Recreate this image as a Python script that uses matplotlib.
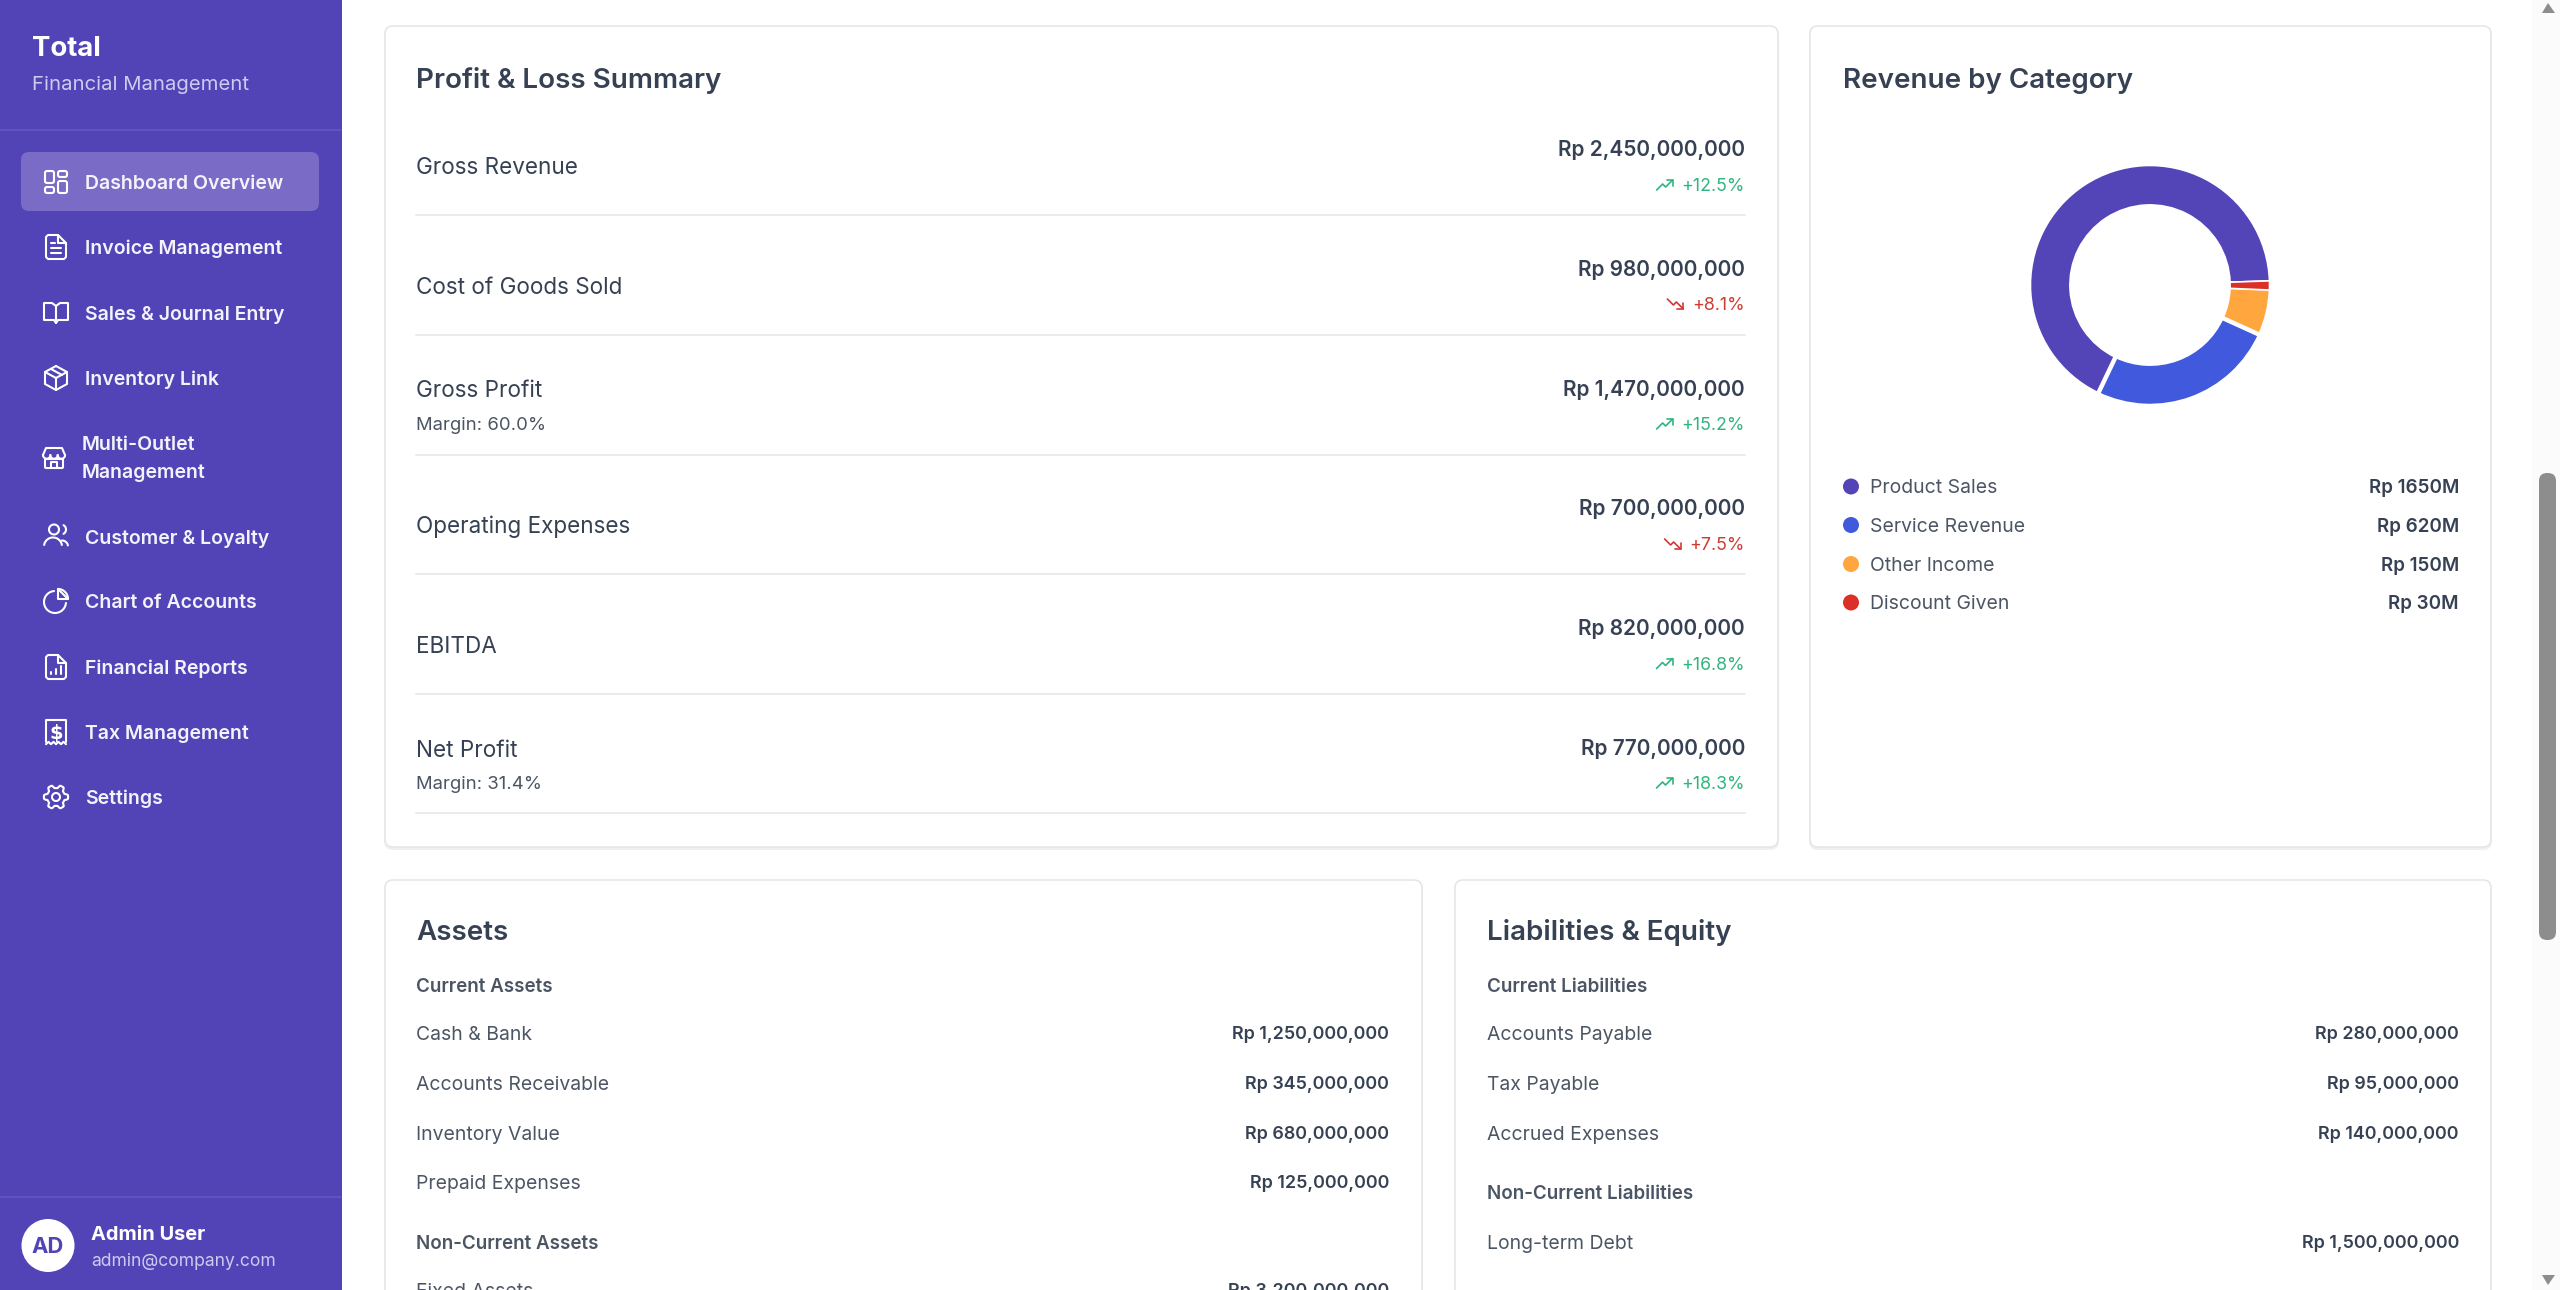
import numpy as np
from matplotlib import pyplot as plt
from matplotlib.patches import FancyBboxPatch, Rectangle, Circle, Polygon

plt.rcParams['font.family'] = ['Inter', 'DejaVu Sans']

SIDEBAR = '#5243b6'
DARK = '#364153'
MID = '#4b5563'
GREEN = '#2fb57e'
RED = '#cf3a32'
LINE = '#e3e5e8'

nav_labels = ['Dashboard Overview', 'Invoice Management', 'Sales & Journal Entry', 'Inventory Link',
              'Multi-Outlet\nManagement', 'Customer & Loyalty', 'Chart of Accounts', 'Financial Reports',
              'Tax Management', 'Settings']
nav_icons = ['grid', 'doc', 'book', 'box', 'store', 'users', 'pie', 'report', 'tax', 'gear']

pl_labels = ['Gross Revenue', 'Cost of Goods Sold', 'Gross Profit', 'Operating Expenses', 'EBITDA', 'Net Profit']
pl_notes = ['', '', 'Margin: 60.0%', '', '', 'Margin: 31.4%']
pl_values = [2450000000, 980000000, 1470000000, 700000000, 820000000, 770000000]
pl_deltas = [12.5, 8.1, 15.2, 7.5, 16.8, 18.3]
pl_good = [True, False, True, False, True, True]

rev_labels = ['Product Sales', 'Service Revenue', 'Other Income', 'Discount Given']
rev_values = [1650, 620, 150, 30]
rev_colors = ['#5344b7', '#4159dd', '#ffa63e', '#dc2f28']

asset_groups = ['Current Assets', 'Non-Current Assets']
current_asset_labels = ['Cash & Bank', 'Accounts Receivable', 'Inventory Value', 'Prepaid Expenses']
current_asset_values = [1250000000, 345000000, 680000000, 125000000]
noncurrent_asset_labels = ['Fixed Assets']
noncurrent_asset_values = [3200000000]

liab_groups = ['Current Liabilities', 'Non-Current Liabilities']
current_liab_labels = ['Accounts Payable', 'Tax Payable', 'Accrued Expenses']
current_liab_values = [280000000, 95000000, 140000000]
noncurrent_liab_labels = ['Long-term Debt']
noncurrent_liab_values = [1500000000]


def rp(v):
    return f'Rp {v:,}'


fig = plt.figure(figsize=(25.6, 12.9), dpi=100, facecolor='white')
ax = fig.add_axes([0, 0, 1, 1])
ax.set_xlim(0, 2560)
ax.set_ylim(1290, 0)
ax.axis('off')


def txt(x, y, s, px, color=DARK, weight='normal', ha='left'):
    # y is the middle of the capitals, px the font size in pixels
    return ax.text(x, y + 0.36 * px, s, fontsize=px * 0.72, color=color, fontweight=weight,
                   ha=ha, va='baseline', zorder=5)


def rbox(x0, y0, x1, y1, r, fc, ec='none', lw=1.0, z=2):
    ax.add_patch(FancyBboxPatch((x0 + r, y0 + r), x1 - x0 - 2 * r, y1 - y0 - 2 * r,
                                boxstyle=f'round,pad={r},rounding_size={r}', fc=fc, ec=ec, lw=lw, zorder=z))


def card(x0, y0, x1, y1):
    rbox(x0 - 1, y0, x1 + 1, y1 + 3, 9, '#f0f0f1')
    rbox(x0, y0, x1, y1, 8, 'white', LINE, 1.1)


def pl(xs, ys, color='white', lw=1.5, z=5):
    ax.plot(xs, ys, color=color, lw=lw, solid_capstyle='round', solid_joinstyle='round', zorder=z)


def arc(cx, cy, r, a0, a1):
    t = np.radians(np.linspace(a0, a1, 40))
    pl(cx + r * np.cos(t), cy - r * np.sin(t))


def ibox(x0, y0, x1, y1, r=2):
    rbox(x0, y0, x1, y1, r, 'none', 'white', 1.5, z=5)


def draw_icon(kind, cx, cy):
    if kind == 'grid':
        ibox(cx - 11, cy - 11, cx - 2, cy + 1)
        ibox(cx + 2, cy - 11, cx + 11, cy - 5)
        ibox(cx - 11, cy + 5, cx - 2, cy + 11)
        ibox(cx + 2, cy - 1, cx + 11, cy + 11)
    elif kind == 'doc':
        pl([cx + 2, cx - 8, cx - 10, cx - 10, cx - 8, cx + 8, cx + 10, cx + 10, cx + 2],
           [cy - 12, cy - 12, cy - 10, cy + 10, cy + 12, cy + 12, cy + 10, cy - 4, cy - 12])
        pl([cx + 2, cx + 2, cx + 10], [cy - 12, cy - 4, cy - 4])
        pl([cx - 5, cx - 1], [cy - 4, cy - 4])
        pl([cx - 5, cx + 5], [cy + 1, cy + 1])
        pl([cx - 5, cx + 5], [cy + 6, cy + 6])
    elif kind == 'book':
        pl([cx, cx - 4, cx - 12, cx - 12, cx - 2, cx, cx + 2, cx + 12, cx + 12, cx + 4, cx],
           [cy - 7, cy - 10, cy - 10, cy + 7, cy + 7, cy + 10, cy + 7, cy + 7, cy - 10, cy - 10, cy - 7])
        pl([cx, cx], [cy - 7, cy + 10])
    elif kind == 'box':
        pl([cx, cx + 11, cx + 11, cx, cx - 11, cx - 11, cx],
           [cy - 12, cy - 6, cy + 6, cy + 12, cy + 6, cy - 6, cy - 12])
        pl([cx - 11, cx, cx + 11], [cy - 6, cy, cy - 6])
        pl([cx, cx], [cy, cy + 12])
        pl([cx - 5, cx + 6], [cy - 9, cy - 3])
    elif kind == 'store':
        pl([cx - 11, cx - 8, cx + 8, cx + 11], [cy - 2, cy - 9, cy - 9, cy - 2])
        for d in (-11, -3.7, 3.7):
            arc(cx + d + 3.7, cy - 2, 3.7, 180, 360)
        ibox(cx - 9, cy + 2, cx + 9, cy + 11, 1)
        pl([cx - 3, cx - 3, cx + 3, cx + 3], [cy + 11, cy + 5, cy + 5, cy + 11])
    elif kind == 'users':
        arc(cx - 2, cy - 7, 5, 0, 360)
        arc(cx - 3, cy + 10, 9, 10, 170)
        arc(cx + 5, cy - 7, 5, -60, 60)
        arc(cx + 6, cy + 10, 6, 10, 90)
    elif kind == 'pie':
        arc(cx - 1, cy + 1, 11, 95, 355)
        pl([cx + 2, cx + 2, cx + 12, cx + 2], [cy - 12, cy - 2, cy - 2, cy - 12])
        arc(cx + 2, cy - 2, 10, 0, 90)
    elif kind == 'report':
        pl([cx + 2, cx - 8, cx - 10, cx - 10, cx - 8, cx + 8, cx + 10, cx + 10, cx + 2],
           [cy - 12, cy - 12, cy - 10, cy + 10, cy + 12, cy + 12, cy + 10, cy - 4, cy - 12])
        pl([cx + 2, cx + 2, cx + 10], [cy - 12, cy - 4, cy - 4])
        pl([cx - 5, cx - 5], [cy + 7, cy + 5])
        pl([cx, cx], [cy + 7, cy + 2])
        pl([cx + 5, cx + 5], [cy + 7, cy - 1])
    elif kind == 'tax':
        pl([cx - 10, cx - 10, cx + 10, cx + 10], [cy + 10, cy - 12, cy - 12, cy + 10])
        xs = np.linspace(cx - 10, cx + 10, 9)
        pl(xs, cy + 11 + np.array([1, -1] * 4 + [1]) * 1.2)
        ax.text(cx, cy + 7, '$', fontsize=14, color='white', fontweight='bold', ha='center', va='baseline',
                zorder=5, family=['DejaVu Sans'])
    elif kind == 'gear':
        t = np.radians(np.arange(0, 361, 3))
        r = 10.5 + 1.6 * np.clip(2 * np.cos(6 * t), -1, 1)
        pl(cx + r * np.cos(t), cy + r * np.sin(t))
        arc(cx, cy, 4, 0, 360)


# sidebar
ax.add_patch(Rectangle((0, 0), 342, 1290, fc=SIDEBAR, ec='none', zorder=1))
ax.plot([0, 341], [130, 130], color='#6557c2', lw=1.1, zorder=2)
ax.plot([0, 341], [1197, 1197], color='#6557c2', lw=1.1, zorder=2)
rbox(21, 152, 319, 211, 8, '#7a6cc6')
txt(32, 46, 'Total', 27.5, 'white', 'bold')
txt(32, 83, 'Financial Management', 20.3, '#cfcaf0')

nav_y = [182, 247, 313, 378, 457, 536.5, 601, 667, 732, 797]
for label, icon, y in zip(nav_labels, nav_icons, nav_y):
    if '\n' in label:
        top, bottom = label.split('\n')
        txt(82, y - 14, top, 19.5, '#f4f3fb', 'semibold')
        txt(82, y + 14, bottom, 19.5, '#f4f3fb', 'semibold')
        draw_icon(icon, 54, y)
    else:
        txt(85, y, label, 19.5, '#f4f3fb', 'semibold')
        draw_icon(icon, 56, y)

ax.add_patch(Circle((48, 1245.5), 26.5, fc='white', ec='none', zorder=3))
txt(48, 1245.5, 'AD', 22, SIDEBAR, 'bold', 'center')
txt(91, 1233, 'Admin User', 20, 'white', 'bold')
txt(91, 1259.5, 'admin@company.com', 17.5, '#cfcaf0')

# scrollbar
ax.add_patch(Rectangle((2532, 0), 28, 1290, fc='#fbfbfb', ec='none', zorder=1))
rbox(2539, 473, 2556, 940, 8, '#8d8d8d')
ax.add_patch(Polygon([[2542, 13], [2548, 3], [2555, 13]], fc='#8d8d8d', ec='none', zorder=3, closed=True))
ax.add_patch(Polygon([[2542, 1275], [2548, 1285], [2555, 1275]], fc='#8d8d8d', ec='none', zorder=3, closed=True))

# cards
card(385, 26, 1778, 847)
card(1810, 26, 2491, 847)
card(385, 880, 1422, 1310)
card(1455, 880, 2491, 1310)

# profit & loss
txt(416.5, 78, 'Profit & Loss Summary', 27.8, DARK, 'semibold')
value_y = [149, 268.5, 388.5, 508, 628, 747.5]
label_y = [166, 286, 389, 525, 645, 749]
note_y = [None, None, 423, None, None, 782]
delta_y = [185, 304, 424, 544, 663.5, 783]
divider_y = [215, 335, 454.5, 574, 694, 813]

fig.canvas.draw()
renderer = fig.canvas.get_renderer()
for i in range(len(pl_labels)):
    txt(416.5, label_y[i], pl_labels[i], 22.5, DARK)
    if pl_notes[i]:
        txt(416.5, note_y[i], pl_notes[i], 18.5, MID)
    txt(1745, value_y[i], rp(pl_values[i]), 20.8, DARK, 'semibold', 'right')
    color = GREEN if pl_good[i] else RED
    t = txt(1745, delta_y[i], f'+{pl_deltas[i]}%', 17.8, color, 'normal', 'right')
    left = t.get_window_extent(renderer).x0
    ix, iy = left - 25, delta_y[i]
    sign = 1 if pl_good[i] else -1
    pl(ix + np.array([0, 6, 9, 16]), iy + sign * np.array([5, -1, 2, -5]), color, 1.2)
    pl(ix + np.array([10, 16, 16]), iy + sign * np.array([-5, -5, 1]), color, 1.2)
    ax.plot([416, 1745], [divider_y[i], divider_y[i]], color=LINE, lw=1.1, zorder=3)

# revenue by category
txt(1843, 78, 'Revenue by Category', 27.8, DARK, 'semibold')
legend_y = [486.5, 525, 564, 602.5]
for label, value, color, y in zip(rev_labels, rev_values, rev_colors, legend_y):
    ax.add_patch(Circle((1851, y), 8, fc=color, ec='none', zorder=3))
    txt(1870, y, label, 19.4, MID)
    txt(2459, y, f'Rp {value}M', 18.8, DARK, 'semibold', 'right')

# donut, 263 px box around (2150, 285)
pie_ax = fig.add_axes([(2150 - 131.5) / 2560, 1 - (285 + 131.5) / 1290, 263 / 2560, 263 / 1290])
wedges, _ = pie_ax.pie(rev_values, colors=rev_colors, startangle=2, radius=1,
                       wedgeprops={'width': 0.33, 'edgecolor': 'white', 'linewidth': 1.2})
pie_ax.set_xlim(-1.1, 1.1)
pie_ax.set_ylim(-1.1, 1.1)
for angle in (wedges[1].theta1, wedges[1].theta2):
    t = np.radians(angle)
    pie_ax.plot([0.64 * np.cos(t), 1.03 * np.cos(t)], [0.64 * np.sin(t), 1.03 * np.sin(t)],
                color='white', lw=3.2, solid_capstyle='butt', zorder=5)

# assets
txt(416.5, 930, 'Assets', 27.8, DARK, 'semibold')
txt(416.5, 985, asset_groups[0], 18.8, MID, 'semibold')
for label, value, y in zip(current_asset_labels, current_asset_values, [1033, 1083, 1133, 1182]):
    txt(416.5, y, label, 19.4, MID)
    txt(1389, y, rp(value), 17.9, DARK, 'semibold', 'right')
txt(416.5, 1242, asset_groups[1], 18.8, MID, 'semibold')
for label, value in zip(noncurrent_asset_labels, noncurrent_asset_values):
    txt(416.5, 1290, label, 19.4, MID)
    txt(1389, 1290, rp(value), 17.9, DARK, 'semibold', 'right')

# liabilities & equity
txt(1487, 930, 'Liabilities & Equity', 27.8, DARK, 'semibold')
txt(1487, 985, liab_groups[0], 18.8, MID, 'semibold')
for label, value, y in zip(current_liab_labels, current_liab_values, [1033, 1083, 1133]):
    txt(1487, y, label, 19.4, MID)
    txt(2459, y, rp(value), 17.9, DARK, 'semibold', 'right')
txt(1487, 1192, liab_groups[1], 18.8, MID, 'semibold')
for label, value in zip(noncurrent_liab_labels, noncurrent_liab_values):
    txt(1487, 1242, label, 19.4, MID)
    txt(2459, 1242, rp(value), 17.9, DARK, 'semibold', 'right')

fig.savefig('out.png', dpi=100)
